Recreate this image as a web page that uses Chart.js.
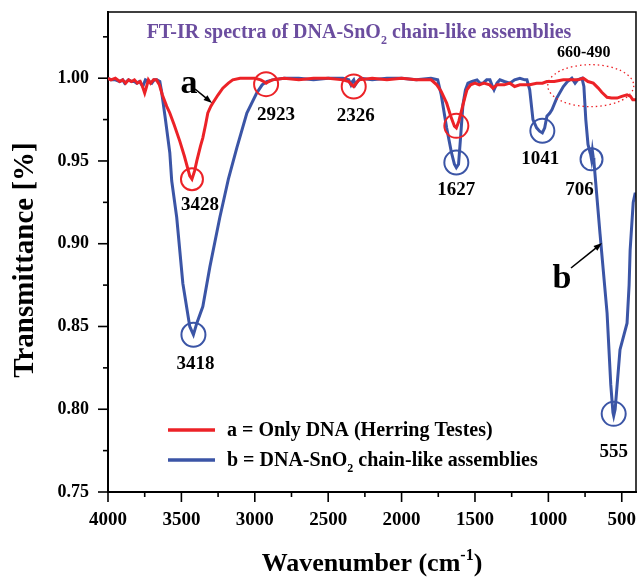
<!DOCTYPE html>
<html>
<head>
<meta charset="utf-8">
<script src="https://cdn.jsdelivr.net/npm/chart.js@4.4.1/dist/chart.umd.min.js"></script>
<style>
  html, body { margin: 0; padding: 0; background: #ffffff; }
  #wrap { width: 640px; height: 577px; }
</style>
</head>
<body>
<div id="wrap"><canvas id="ftir" width="640" height="577"></canvas></div>
<script>
// ---- Spectrum a: only DNA (herring testes) ----
const wavenumbersA = [4000,3980,3950,3920,3900,3880,3860,3840,3820,3800,3780,3765,3750,3740,3725,3710,3690,3670,3650,3630,3600,3579,3550,3511,3480,3443,3428,3410,3395,3370,3354,3335,3320,3300,3286,3250,3218,3180,3150,3100,3050,3000,2960,2940,2923,2905,2880,2800,2700,2600,2500,2400,2360,2340,2326,2310,2290,2200,2100,2000,1900,1800,1785,1760,1730,1693,1665,1640,1627,1610,1590,1570,1555,1530,1500,1470,1440,1400,1377,1350,1300,1262,1230,1194,1160,1127,1080,1040,1010,960,898,850,800,762,730,694,660,636,600,570,532,500,464,440,425,403];
const transmittanceA = [1.000,0.999,1.000,0.998,0.999,0.997,0.999,0.998,0.999,0.997,0.998,0.995,0.991,0.994,0.999,0.997,0.999,0.999,0.996,0.990,0.983,0.979,0.972,0.962,0.953,0.941,0.939,0.944,0.950,0.959,0.964,0.972,0.979,0.983,0.985,0.990,0.994,0.997,0.999,1.000,1.000,1.000,0.999,0.998,0.997,0.998,0.999,1.000,0.999,1.000,1.000,0.999,0.998,0.996,0.995,0.997,0.999,1.000,0.999,1.000,0.999,0.999,0.998,0.996,0.992,0.985,0.977,0.971,0.970,0.974,0.981,0.988,0.993,0.996,0.997,0.996,0.997,0.996,0.994,0.996,0.996,0.997,0.995,0.996,0.996,0.996,0.997,0.997,0.998,0.998,0.999,0.999,0.999,1.000,0.998,0.997,0.994,0.9915,0.9885,0.988,0.988,0.989,0.990,0.989,0.987,0.987];

// ---- Spectrum b: DNA-SnO2 chain-like assemblies ----
const wavenumbersB = [4000,3980,3950,3920,3900,3886,3860,3840,3820,3805,3785,3763,3745,3720,3702,3685,3668,3647,3635,3610,3579,3566,3532,3490,3443,3418,3395,3354,3306,3238,3180,3122,3054,2987,2950,2919,2880,2800,2700,2600,2500,2400,2360,2345,2335,2326,2315,2300,2280,2200,2100,2000,1900,1800,1754,1730,1693,1660,1640,1627,1612,1600,1582,1565,1548,1520,1486,1465,1445,1420,1398,1385,1370,1350,1330,1300,1262,1230,1194,1160,1146,1127,1105,1080,1060,1041,1025,1010,990,975,943,898,870,840,818,800,771,758,745,730,716,712,706,700,694,690,648,600,575,560,555,545,512,464,450,443,422,410,403];
const transmittanceB = [1.000,0.999,0.999,0.998,0.999,0.997,0.999,0.998,0.998,0.997,0.998,0.995,0.999,0.998,0.997,0.999,0.999,0.998,0.992,0.976,0.955,0.938,0.916,0.876,0.850,0.845,0.852,0.862,0.886,0.916,0.939,0.958,0.979,0.991,0.996,0.998,0.999,1.000,1.000,0.999,1.000,1.000,0.999,0.996,0.998,0.999,0.996,0.998,1.000,0.999,1.000,1.000,0.999,1.000,0.999,0.990,0.970,0.955,0.948,0.946,0.948,0.962,0.984,0.993,0.997,0.998,0.999,0.997,0.997,0.999,0.999,0.996,0.993,0.997,0.999,0.998,0.997,0.999,1.000,0.999,0.999,0.993,0.975,0.970,0.968,0.967,0.970,0.977,0.979,0.981,0.988,0.995,0.998,1.000,0.997,0.999,1.000,0.995,0.975,0.960,0.955,0.954,0.951,0.956,0.952,0.950,0.906,0.858,0.815,0.798,0.796,0.800,0.836,0.852,0.875,0.896,0.925,0.930,0.930];

// ---- Axis ticks ----
const xTickValues = [4000,3500,3000,2500,2000,1500,1000,500];
const yTickValues = [0.75,0.80,0.85,0.90,0.95,1.00];

// ---- Marked bands (cm-1) ----
const peaksA = [3428, 2923, 2326, 1627];
const peaksB = [3418, 1627, 1041, 706, 555];
const bandRange = [660, 490];

const legendLabels = ['a = Only DNA (Herring Testes)', 'b = DNA-SnO|2| chain-like assemblies'];

const RED = '#ec2227';
const BLUE = '#3b55a6';
const PURPLE = '#6b4d9f';
const SERIF = '"Liberation Serif", "Times New Roman", serif';

function toPoints(xs, ys) { return xs.map((x, i) => ({ x: x, y: ys[i] })); }

function valueAt(xs, ys, w) {
  for (let i = 0; i < xs.length - 1; i++) {
    if (xs[i] >= w && xs[i + 1] <= w) {
      const t = (w - xs[i + 1]) / (xs[i] - xs[i + 1]);
      return ys[i + 1] + t * (ys[i] - ys[i + 1]);
    }
  }
  return ys[ys.length - 1];
}

// text with sub/superscript runs: "text|2|more" -> "2" is a subscript
function richText(ctx, str, x, y, size, color, align, sup) {
  const parts = str.split('|');
  const small = Math.round(size * 0.62);
  let total = 0;
  parts.forEach((p, i) => {
    ctx.font = 'bold ' + (i % 2 ? small : size) + 'px ' + SERIF;
    total += ctx.measureText(p).width;
  });
  let cx = align === 'center' ? x - total / 2 : x;
  ctx.fillStyle = color;
  ctx.textAlign = 'left';
  ctx.textBaseline = 'alphabetic';
  parts.forEach((p, i) => {
    const s = i % 2 ? small : size;
    ctx.font = 'bold ' + s + 'px ' + SERIF;
    const dy = i % 2 ? (sup ? -size * 0.42 : size * 0.3) : 0;
    ctx.fillText(p, cx, y + dy);
    cx += ctx.measureText(p).width;
  });
}

function arrow(ctx, x1, y1, x2, y2) {
  const ang = Math.atan2(y2 - y1, x2 - x1);
  const head = 9;
  ctx.strokeStyle = '#000';
  ctx.fillStyle = '#000';
  ctx.lineWidth = 1.6;
  ctx.beginPath();
  ctx.moveTo(x1, y1);
  ctx.lineTo(x2 - Math.cos(ang) * head * 0.8, y2 - Math.sin(ang) * head * 0.8);
  ctx.stroke();
  ctx.beginPath();
  ctx.moveTo(x2, y2);
  ctx.lineTo(x2 - head * Math.cos(ang - 0.35), y2 - head * Math.sin(ang - 0.35));
  ctx.lineTo(x2 - head * Math.cos(ang + 0.35), y2 - head * Math.sin(ang + 0.35));
  ctx.closePath();
  ctx.fill();
}

// circles and numbers at the marked bands (offsets in px)
const markStyle = {
  a: { 3428: { r: 11, lx: 8, ly: 26 }, 2923: { r: 12, lx: 10, ly: 31, cy: 1 }, 2326: { r: 12, lx: 2, ly: 30 }, 1627: { r: 12, cy: -2 } },
  b: { 3418: { r: 12, lx: 2, ly: 29 }, 1627: { r: 12, lx: 0, ly: 28, cy: -5 }, 1041: { r: 12, lx: -2, ly: 28, cy: -2 }, 706: { r: 11, lx: -12, ly: 31, cy: 0 }, 555: { r: 12, lx: 0, ly: 38, cy: -2 } }
};

// keep the plot box fixed: no extra label overhang padding
function fixBox(s) {
  s.paddingTop = 0; s.paddingBottom = 0; s.paddingLeft = 0; s.paddingRight = 0;
}

const decorations = {
  id: 'decorations',
  afterDraw(chart) {
    const ctx = chart.ctx;
    const xs = chart.scales.x, ys = chart.scales.y;
    const area = chart.chartArea;
    ctx.save();

    // frame on top and right
    ctx.strokeStyle = '#000';
    ctx.lineWidth = 1.5;
    ctx.beginPath();
    ctx.moveTo(area.left, area.top);
    ctx.lineTo(area.right, area.top);
    ctx.lineTo(area.right, area.bottom);
    ctx.stroke();

    // outward tick marks, major and minor
    ctx.lineWidth = 1.6;
    for (let v = 4000; v >= 500; v -= 250) {
      const p = xs.getPixelForValue(v);
      const len = v % 500 === 0 ? 10 : 5;
      ctx.beginPath();
      ctx.moveTo(p, area.bottom);
      ctx.lineTo(p, area.bottom + len);
      ctx.stroke();
    }
    for (let k = 0; k <= 11; k++) {
      const v = 0.75 + k * 0.025;
      const p = ys.getPixelForValue(v);
      const len = k % 2 === 0 ? 10 : 5;
      ctx.beginPath();
      ctx.moveTo(area.left - len, p);
      ctx.lineTo(area.left, p);
      ctx.stroke();
    }

    // axis titles
    ctx.save();
    ctx.translate(26, 260);
    ctx.rotate(-Math.PI / 2);
    ctx.font = 'bold 29px ' + SERIF;
    ctx.fillStyle = '#000';
    ctx.textAlign = 'center';
    ctx.textBaseline = 'middle';
    ctx.fillText('Transmittance [%]', 0, 0);
    ctx.restore();
    richText(ctx, 'Wavenumber (cm|-1|)', 372, 571, 26, '#000', 'center', true);

    // chart title
    richText(ctx, 'FT-IR spectra of DNA-SnO|2| chain-like assemblies', 359, 38, 20, PURPLE, 'center', false);

    // legend
    const legendColors = [RED, BLUE];
    legendLabels.forEach((lab, i) => {
      const y = 430 + i * 30;
      ctx.strokeStyle = legendColors[i];
      ctx.lineWidth = 3.5;
      ctx.beginPath();
      ctx.moveTo(168, y);
      ctx.lineTo(215, y);
      ctx.stroke();
      richText(ctx, lab, 227, y + 6, 20, '#000', 'left', false);
    });

    // band circles and labels
    const series = { a: [wavenumbersA, transmittanceA, RED, peaksA], b: [wavenumbersB, transmittanceB, BLUE, peaksB] };
    ['a', 'b'].forEach(key => {
      const [wx, ty, col, peaks] = series[key];
      peaks.forEach(w => {
        const st = markStyle[key][w];
        const px = xs.getPixelForValue(w);
        const py = ys.getPixelForValue(valueAt(wx, ty, w)) + (st.cy || 0);
        ctx.strokeStyle = col;
        ctx.lineWidth = 2;
        ctx.beginPath();
        ctx.arc(px, py, st.r, 0, Math.PI * 2);
        ctx.stroke();
        if (st.ly !== undefined) {
          ctx.font = 'bold 19px ' + SERIF;
          ctx.fillStyle = '#000';
          ctx.textAlign = 'center';
          ctx.textBaseline = 'middle';
          ctx.fillText(String(w), px + st.lx, py + st.ly);
        }
      });
    });

    // dotted ellipse around the 660-490 band
    const ex = (xs.getPixelForValue(bandRange[0]) + xs.getPixelForValue(bandRange[1])) / 2 - 20;
    const ey = ys.getPixelForValue(0.9955);
    ctx.strokeStyle = RED;
    ctx.lineWidth = 1.3;
    ctx.setLineDash([1.5, 3]);
    ctx.beginPath();
    ctx.ellipse(ex, ey, 43, 21, 0, 0, Math.PI * 2);
    ctx.stroke();
    ctx.setLineDash([]);
    ctx.font = 'bold 16px ' + SERIF;
    ctx.fillStyle = '#000';
    ctx.textAlign = 'center';
    ctx.textBaseline = 'middle';
    ctx.fillText(bandRange.join('-'), ex - 7, 53);

    // curve letters with arrows
    ctx.font = 'bold 34px ' + SERIF;
    ctx.fillText('a', 189, 84);
    arrow(ctx, 195, 89, 212, 103);
    ctx.fillText('b', 562, 279);
    arrow(ctx, 571, 268, 602, 243);

    ctx.restore();
  }
};

new Chart(document.getElementById('ftir'), {
  type: 'scatter',
  data: {
    datasets: [
      { label: 'a', data: toPoints(wavenumbersA, transmittanceA), showLine: true, borderColor: RED, borderWidth: 3, pointRadius: 0, tension: 0 },
      { label: 'b', data: toPoints(wavenumbersB, transmittanceB), showLine: true, borderColor: BLUE, borderWidth: 3, pointRadius: 0, tension: 0 }
    ]
  },
  options: {
    responsive: false,
    animation: false,
    devicePixelRatio: 1,
    layout: { padding: { top: 12, right: 4, left: 0, bottom: 0 } },
    plugins: { legend: { display: false }, tooltip: { enabled: false }, title: { display: false } },
    scales: {
      x: {
        type: 'linear',
        reverse: true,
        min: 403,
        max: 4000,
        afterBuildTicks: s => { s.ticks = xTickValues.map(v => ({ value: v })); },
        afterFit: s => { s.height = 85; fixBox(s); },
        grid: { display: true, drawOnChartArea: false, drawTicks: false },
        border: { display: true, color: '#000', width: 2 },
        ticks: { autoSkip: false, maxRotation: 0, padding: 17, color: '#000', font: { family: SERIF, size: 19, weight: 'bold' }, callback: v => String(v) }
      },
      y: {
        type: 'linear',
        min: 0.75,
        max: 1.04,
        afterBuildTicks: s => { s.ticks = yTickValues.map(v => ({ value: v })); },
        afterFit: s => { s.width = 108; fixBox(s); },
        grid: { display: true, drawOnChartArea: false, drawTicks: false },
        border: { display: true, color: '#000', width: 2 },
        ticks: { autoSkip: false, padding: 19, color: '#000', font: { family: SERIF, size: 18, weight: 'bold' }, callback: v => v.toFixed(2) }
      }
    }
  },
  plugins: [decorations]
});
</script>
</body>
</html>
